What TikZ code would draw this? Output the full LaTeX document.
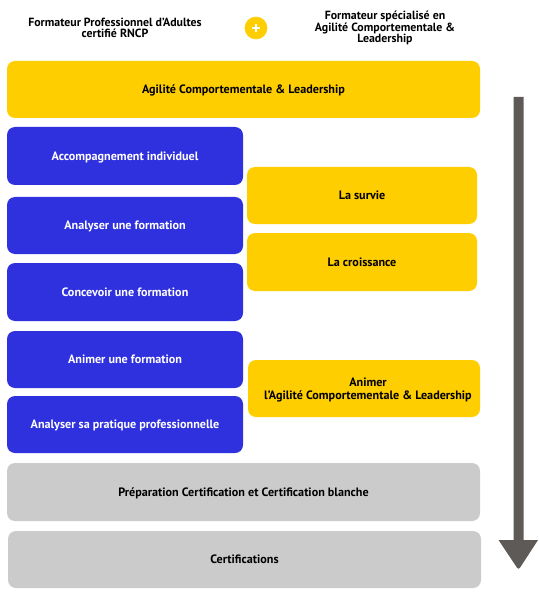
\documentclass[tikz,border=0pt]{standalone}
\usepackage{fontspec}
\setmainfont{PT Sans}
\definecolor{ybox}{HTML}{FFCE00}
\definecolor{bbox}{HTML}{2F30DE}
\definecolor{gbox}{HTML}{CBCBCB}
\definecolor{arr}{HTML}{5E5A57}
\begin{document}
\begin{tikzpicture}[x=0.75pt,y=-0.75pt,
  box/.style={rounded corners=6pt,inner sep=0pt,align=center,text depth=0pt,font=\bfseries\fontsize{9.1pt}{10pt}\selectfont},
  yb/.style={box,fill=ybox,text=black},
  bb/.style={box,fill=bbox,text=white},
  gb/.style={box,fill=gbox,text=black},
  hd/.style={align=center,inner sep=0pt,font=\bfseries\fontsize{8.9pt}{8.6pt}\selectfont}]
\useasboundingbox[fill=white] (0,0) rectangle (538,595);
% header
\node[hd] (h1) at (115,28) {Formateur Professionnel d'Adultes\\certifié RNCP};
\node[circle,fill=ybox,minimum size=17pt,inner sep=0pt] (plus) at (256,28) {};
\draw[white,line width=1.6pt] ([xshift=-3.2pt]plus.center) -- ([xshift=3.2pt]plus.center);
\draw[white,line width=1.6pt] ([yshift=-3.2pt]plus.center) -- ([yshift=3.2pt]plus.center);
\node[hd] (h2) at (385,28) {Formateur spécialisé en\\Agilité Comportementale \&\\Leadership};
% boxes
\node[yb,minimum width=473*0.75pt,minimum height=57*0.75pt] (top) at (243.5,89.5) {Agilité Comportementale \& Leadership};
\node[bb,minimum width=236*0.75pt,minimum height=58*0.75pt] (b1) at (125,156) {Accompagnement individuel};
\node[bb,minimum width=236*0.75pt,minimum height=57*0.75pt] (b2) at (125,225.5) {Analyser une formation};
\node[bb,minimum width=236*0.75pt,minimum height=58*0.75pt] (b3) at (125,292) {Concevoir une formation};
\node[bb,minimum width=236*0.75pt,minimum height=57*0.75pt] (b4) at (125,359.5) {Animer une formation};
\node[bb,minimum width=236*0.75pt,minimum height=57*0.75pt] (b5) at (125,424.5) {Analyser sa pratique professionnelle};
\node[yb,minimum width=230*0.75pt,minimum height=57*0.75pt] (y1) at (362,195.5) {La survie};
\node[yb,minimum width=230*0.75pt,minimum height=58*0.75pt] (y2) at (362,262) {La croissance};
\node[yb,minimum width=232*0.75pt,minimum height=57*0.75pt] (y3) at (364,388.5) {\hspace*{6pt}Animer\\\hspace*{6pt}l'Agilité Comportementale \& Leadership};
\node[gb,minimum width=473*0.75pt,minimum height=58*0.75pt] (g1) at (243.5,492) {Préparation Certification et Certification blanche};
\node[gb,minimum width=473*0.75pt,minimum height=57*0.75pt] (g2) at (244.5,559.5) {Certifications};
% arrow
\coordinate (s1) at (513.5,97);
\coordinate (s2) at (523.5,97);
\fill[arr] (s1) -- (s2) -- (523.5,540) -- (538,540) [rounded corners=2pt] -- (518.5,570) [sharp corners] -- (498.5,540) -- (513.5,540) -- cycle;
\end{tikzpicture}
\end{document}
